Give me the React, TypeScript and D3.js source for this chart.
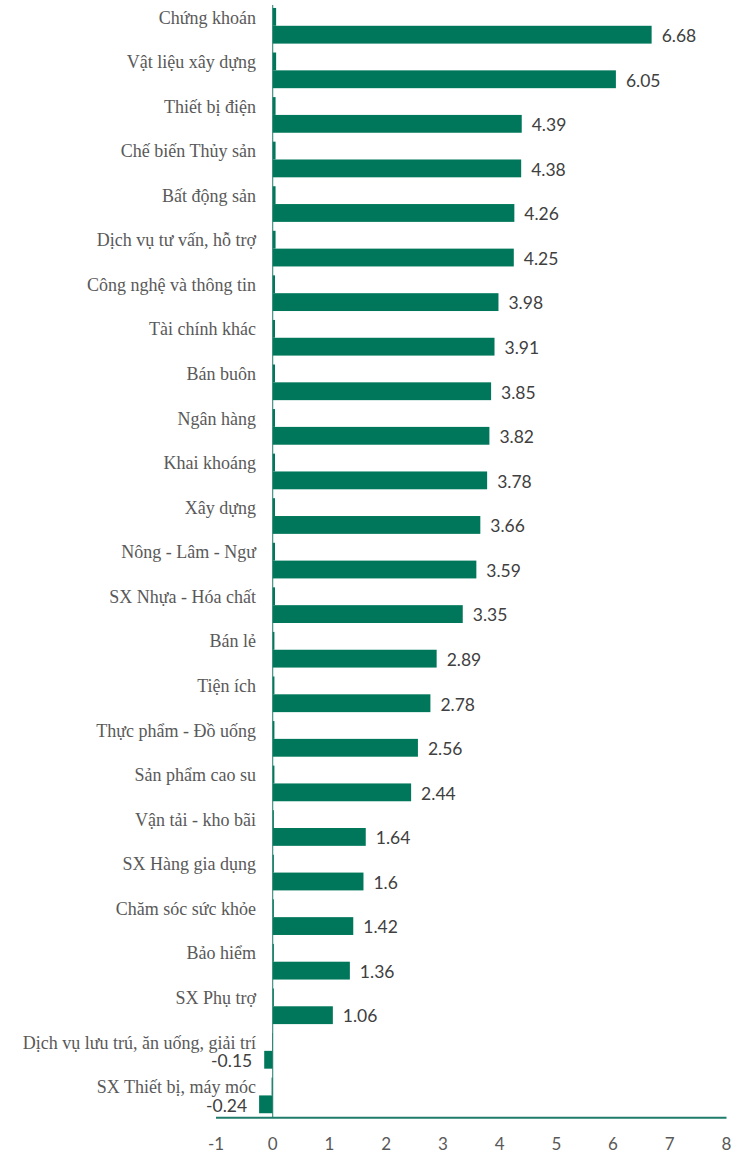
import * as d3 from "d3";

const categories = [
  "Chứng khoán",
  "Vật liệu  xây dựng",
  "Thiết bị điện",
  "Chế biến Thủy sản",
  "Bất động sản",
  "Dịch vụ tư vấn, hỗ trợ",
  "Công nghệ và thông tin",
  "Tài chính khác",
  "Bán buôn",
  "Ngân hàng",
  "Khai khoáng",
  "Xây dựng",
  "Nông - Lâm - Ngư",
  "SX Nhựa - Hóa chất",
  "Bán lẻ",
  "Tiện ích",
  "Thực phẩm - Đồ uống",
  "Sản phẩm cao su",
  "Vận tải - kho bãi",
  "SX Hàng gia dụng",
  "Chăm sóc sức khỏe",
  "Bảo hiểm",
  "SX Phụ trợ",
  "Dịch vụ lưu trú, ăn uống, giải trí",
  "SX Thiết bị, máy móc",
];

const mainValues = [
  6.68, 6.05, 4.39, 4.38, 4.26, 4.25, 3.98, 3.91, 3.85, 3.82, 3.78, 3.66, 3.59,
  3.35, 2.89, 2.78, 2.56, 2.44, 1.64, 1.6, 1.42, 1.36, 1.06, -0.15, -0.24,
];

// thin companion series drawn above each main bar
const smallValues = [
  0.06, 0.06, 0.05, 0.05, 0.05, 0.05, 0.04, 0.04, 0.04, 0.04, 0.04, 0.04, 0.04,
  0.04, 0.03, 0.03, 0.03, 0.03, 0.02, 0.02, 0.02, 0.02, 0.02, -0.01, -0.02,
];

const xTicks = [-1, 0, 1, 2, 3, 4, 5, 6, 7, 8];

const width = 749;
const height = 1154;
const barColor = "#00775a";
const axisColor = "#1f7b6a";

export default function App() {
  const x = d3.scaleLinear().domain([-1, 8]).range([216, 726.5]);
  const y = d3
    .scaleBand<string>()
    .domain(categories)
    .range([3.5, 1117.7])
    .paddingInner(0)
    .paddingOuter(0);
  const step = y.step();
  const barH = step * 0.4;
  const pad = step * 0.1;
  const x0 = x(0);

  return (
    <>
      <style>{`body{margin:0}`}</style>
      <svg width={width} height={height} style={{ display: "block" }}>
        {categories.map((c, i) => {
          const top = y(c)!;
          const sv = smallValues[i];
          const mv = mainValues[i];
          const smallY = top + pad;
          const mainY = top + pad + barH;
          return (
            <g key={c}>
              <rect
                x={Math.min(x(sv), x0)}
                y={smallY}
                width={Math.abs(x(sv) - x0)}
                height={barH}
                fill={barColor}
              />
              <rect
                x={Math.min(x(mv), x0)}
                y={mainY}
                width={Math.abs(x(mv) - x0)}
                height={barH}
                fill={barColor}
              />
              <text
                x={256}
                y={top + 20}
                textAnchor="end"
                fontFamily="'Liberation Serif', 'Times New Roman', serif"
                fontSize={18}
                fill="#595959"
              >
                {c}
              </text>
              <text
                x={mv >= 0 ? x(mv) + 10 : x(mv) - 12}
                y={mainY + barH / 2 + 1}
                dy="0.36em"
                textAnchor={mv >= 0 ? "start" : "end"}
                fontFamily="Lato, 'Open Sans', sans-serif"
                fontSize={17.5}
                fill="#404040"
              >
                {mv}
              </text>
            </g>
          );
        })}
        <line x1={x0} x2={x0} y1={5} y2={1117.7} stroke={axisColor} strokeWidth={1} />
        <line x1={x(-1)} x2={x(8)} y1={1117.7} y2={1117.7} stroke={axisColor} strokeWidth={2} />
        {xTicks.map((t) => (
          <text
            key={t}
            x={x(t)}
            y={1150}
            textAnchor="middle"
            fontFamily="Lato, 'Open Sans', sans-serif"
            fontSize={17}
            fill="#595959"
          >
            {t}
          </text>
        ))}
      </svg>
    </>
  );
}
